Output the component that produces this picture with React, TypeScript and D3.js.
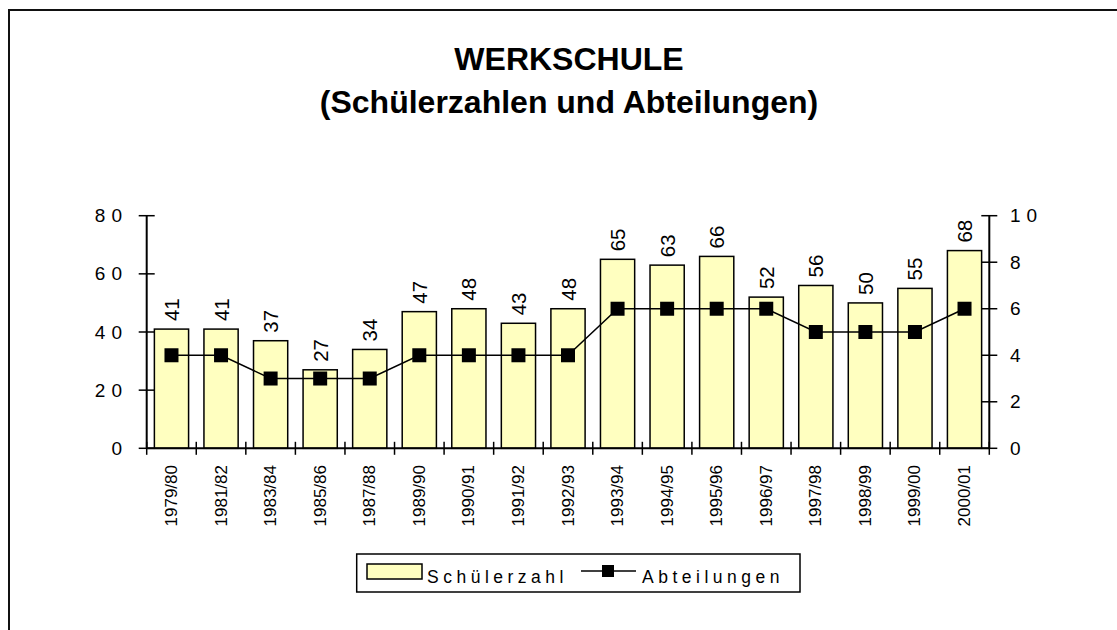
import React from "react";
import * as d3 from "d3";

const categories = ["1979/80","1981/82","1983/84","1985/86","1987/88","1989/90","1990/91","1991/92","1992/93","1993/94","1994/95","1995/96","1996/97","1997/98","1998/99","1999/00","2000/01"];
const schuelerzahl = [41,41,37,27,34,47,48,43,48,65,63,66,52,56,50,55,68];
const abteilungen = [4,4,3,3,3,4,4,4,4,6,6,6,6,5,5,5,6];
const leftTicks = [0,20,40,60,80];
const rightTicks = [0,2,4,6,8,10];
const titleLines = ["WERKSCHULE", "(Schülerzahlen und Abteilungen)"];
const legendLabels = ["Schülerzahl", "Abteilungen"];

const FONT = "Arial, 'Liberation Sans', sans-serif";
const BAR_FILL = "#ffffc0";

export default function App() {
  const left = 146.7, right = 989.3, top = 215.7, bottom = 448.3;
  const x = d3.scaleBand<string>().domain(categories).range([left, right]).paddingInner(0.31).paddingOuter(0.155);
  const xb = d3.scaleBand<string>().domain(categories).range([left, right]);
  const yL = d3.scaleLinear().domain([0, 80]).range([bottom, top]);
  const yR = d3.scaleLinear().domain([0, 10]).range([bottom, top]);
  const line = d3.line<number>().x((_, i) => (xb(categories[i]) as number) + xb.bandwidth() / 2).y(d => yR(d));
  const ms = 14;
  const boundaries = categories.map(c => xb(c) as number).concat([right]);

  return (
    <svg width={1117} height={630} style={{ position: "absolute", left: 0, top: 0, background: "#fff" }} fontFamily={FONT}>
      <rect x={0} y={0} width={1117} height={630} fill="#fff" />
      <rect x={9} y={10} width={1300} height={900} fill="none" stroke="#111" strokeWidth={2} />
      {titleLines.map((t, i) => (
        <text key={i} x={569} y={70 + i * 43} textAnchor="middle" fontSize={32} fontWeight="bold" fill="#000">{t}</text>
      ))}
      {categories.map((c, i) => (
        <rect key={c} x={x(c)} y={yL(schuelerzahl[i])} width={x.bandwidth()} height={bottom - yL(schuelerzahl[i])} fill={BAR_FILL} stroke="#000" strokeWidth={1.5} />
      ))}
      {categories.map((c, i) => {
        const cx = (xb(c) as number) + xb.bandwidth() / 2;
        const y = yL(schuelerzahl[i]) - 8;
        return (
          <text key={"v" + c} transform={`translate(${cx},${y}) rotate(-90)`} dominantBaseline="central" fontSize={20.5} fill="#000">{schuelerzahl[i]}</text>
        );
      })}
      <line x1={left} x2={left} y1={top} y2={bottom} stroke="#000" strokeWidth={2} />
      <line x1={right} x2={right} y1={top} y2={bottom} stroke="#000" strokeWidth={2} />
      <line x1={left} x2={right} y1={bottom} y2={bottom} stroke="#000" strokeWidth={2} />
      {leftTicks.map(t => (
        <g key={"l" + t}>
          <line x1={left - 8} x2={left + 8} y1={yL(t)} y2={yL(t)} stroke="#000" strokeWidth={1.5} />
          <text x={128} y={yL(t)} textAnchor="end" dominantBaseline="central" fontSize={19} letterSpacing={6} fill="#000">{t}</text>
        </g>
      ))}
      {rightTicks.map(t => (
        <g key={"r" + t}>
          <line x1={right - 8} x2={right + 8} y1={yR(t)} y2={yR(t)} stroke="#000" strokeWidth={1.5} />
          <text x={1010} y={yR(t)} textAnchor="start" dominantBaseline="central" fontSize={19} letterSpacing={6} fill="#000">{t}</text>
        </g>
      ))}
      {boundaries.map((b, i) => (
        <line key={"xt" + i} x1={b} x2={b} y1={bottom - 6.5} y2={bottom + 6.5} stroke="#000" strokeWidth={1.5} />
      ))}
      {categories.map(c => {
        const cx = (xb(c) as number) + xb.bandwidth() / 2;
        return (
          <text key={"c" + c} transform={`translate(${cx},465) rotate(-90)`} textAnchor="end" dominantBaseline="central" fontSize={17} fill="#000">{c}</text>
        );
      })}
      <path d={line(abteilungen) || ""} fill="none" stroke="#000" strokeWidth={1.5} />
      {abteilungen.map((v, i) => {
        const cx = (xb(categories[i]) as number) + xb.bandwidth() / 2;
        return <rect key={"m" + i} x={cx - ms / 2} y={yR(v) - ms / 2} width={ms} height={ms} fill="#000" />;
      })}
      <rect x={356.7} y={554} width={443.3} height={38} fill="#fff" stroke="#000" strokeWidth={1.5} />
      <rect x={367} y={564} width={55} height={15} fill={BAR_FILL} stroke="#000" strokeWidth={1.5} />
      <text x={427} y={583} fontSize={17.5} letterSpacing={4.5} fill="#000">{legendLabels[0]}</text>
      <line x1={581} x2={636} y1={571} y2={571} stroke="#000" strokeWidth={1.5} />
      <rect x={602} y={565} width={12} height={12} fill="#000" />
      <text x={642} y={583} fontSize={17.5} letterSpacing={4.5} fill="#000">{legendLabels[1]}</text>
    </svg>
  );
}
